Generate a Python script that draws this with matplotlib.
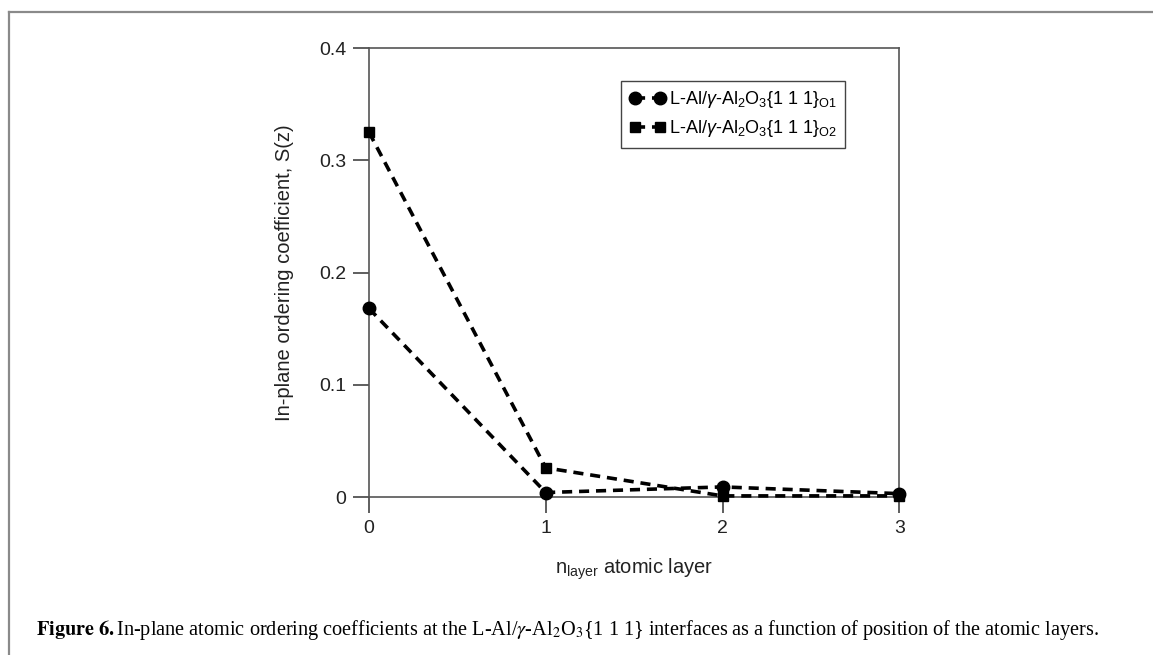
import matplotlib
matplotlib.use("Agg")
from matplotlib import pyplot as plt
from matplotlib.lines import Line2D

plt.rcParams['font.family'] = ['Liberation Sans', 'DejaVu Sans']
plt.rcParams['mathtext.fontset'] = 'custom'
plt.rcParams['mathtext.rm'] = 'Liberation Sans'
plt.rcParams['mathtext.it'] = 'Liberation Sans:italic'
plt.rcParams['mathtext.bf'] = 'Liberation Sans:bold'

# data
layers = [0, 1, 2, 3]
s_o1 = [0.168, 0.004, 0.009, 0.003]
s_o2 = [0.325, 0.026, 0.001, 0.001]
label_o1 = r"L-Al/$\gamma$-Al$_2$O$_3${1 1 1}$_{\mathrm{O1}}$"
label_o2 = r"L-Al/$\gamma$-Al$_2$O$_3${1 1 1}$_{\mathrm{O2}}$"
xticks = [0, 1, 2, 3]
yticks = [0, 0.1, 0.2, 0.3, 0.4]
yticklabels = ["0", "0.1", "0.2", "0.3", "0.4"]

fig = plt.figure(figsize=(11.53, 6.55), dpi=100)
ax = fig.add_axes([0.320, 0.2412, 0.460, 0.6855])

dash = (2.8, 1.9)
ax.plot(layers, s_o1, color='black', lw=2.6, ls=(0, dash), marker='o', ms=9,
        clip_on=False, zorder=3, label=label_o1)
ax.plot(layers, s_o2, color='black', lw=2.6, ls=(0, dash), marker='s', ms=7.5,
        clip_on=False, zorder=3, label=label_o2)

ax.set_xlim(0, 3)
ax.set_ylim(0, 0.4)
ax.set_xticks(xticks)
ax.set_yticks(yticks)
ax.set_yticklabels(yticklabels)
ax.tick_params(direction='out', length=11.5, width=1.1, pad=5, labelsize=14,
               colors='#333333', labelcolor='#222222')
for sp in ax.spines.values():
    sp.set_color('#555555')
    sp.set_linewidth(1.2)

ax.set_ylabel("In-plane ordering coefficient, S(z)", fontsize=14.5, color='#222222', labelpad=18)
ax.set_xlabel(r"n$_{\mathrm{layer}}$ atomic layer", fontsize=14.5, color='#222222', labelpad=14)

leg = ax.legend(loc='upper right', bbox_to_anchor=(0.898, 0.926), fontsize=13,
                fancybox=False, edgecolor='#444444', framealpha=1, numpoints=2,
                handlelength=2.0, borderpad=0.45, labelspacing=0.45, handletextpad=0.2,
                borderaxespad=0)
leg.get_frame().set_linewidth(1.0)

# outer frame of the page figure
fig.add_artist(Line2D([9 / 1153, 9 / 1153], [0, 1 - 12 / 655], color='#8a8a8a', lw=1.6,
                      transform=fig.transFigure))
fig.add_artist(Line2D([9 / 1153, 1], [1 - 12 / 655, 1 - 12 / 655], color='#8a8a8a', lw=1.6,
                      transform=fig.transFigure))

fig.text(36 / 1153, 1 - 630 / 655,
         r"$\mathbf{Figure\ 6.}$In-plane atomic ordering coefficients at the L-Al/$\gamma$-Al$_2$O$_3${1 1 1} "
         "interfaces as a function of position of the atomic layers.",
         fontsize=14.6, family='Liberation Serif', math_fontfamily='stix', va='center', ha='left')

fig.savefig("out.png", dpi=100)
